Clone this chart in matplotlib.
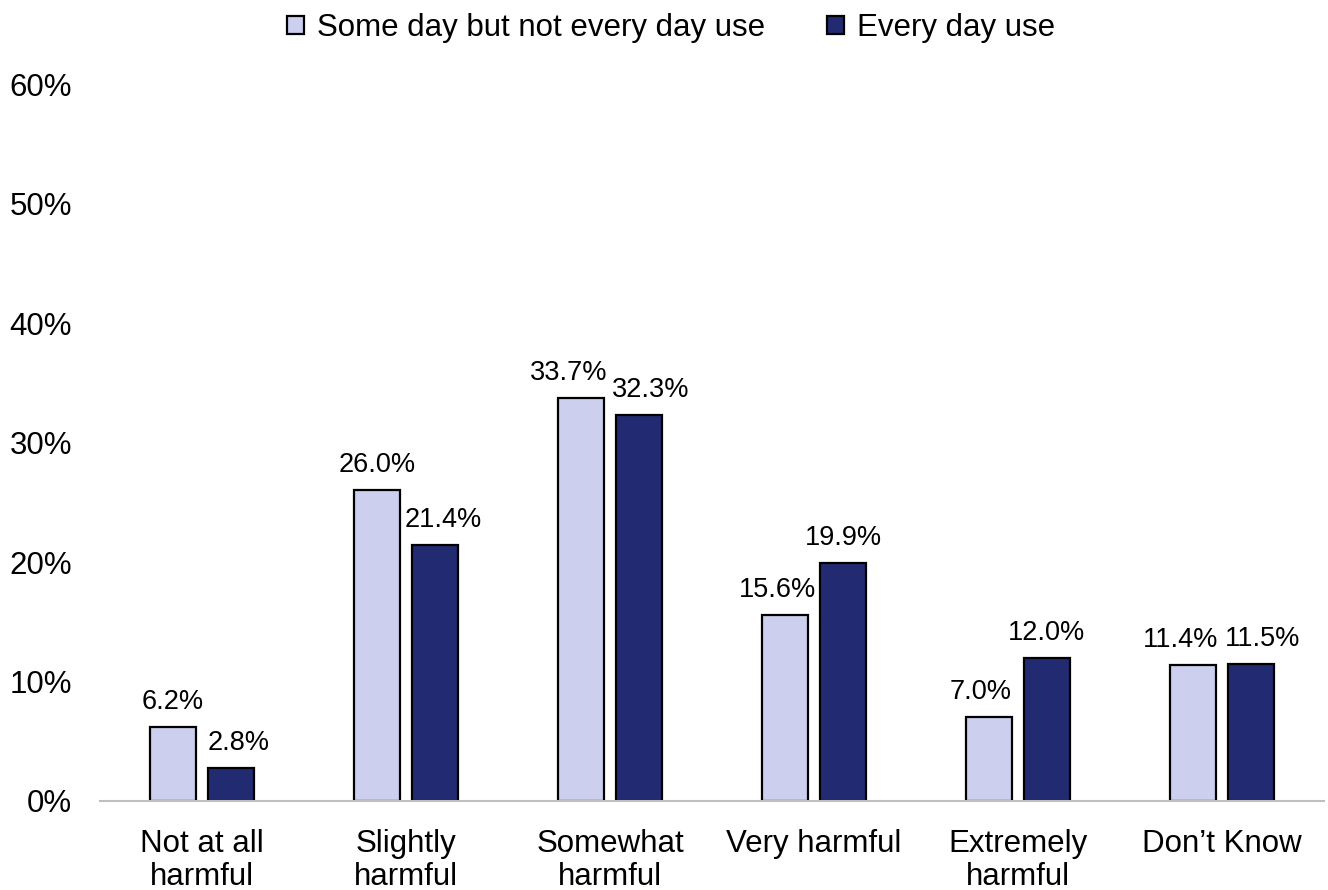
import numpy as np
import matplotlib.pyplot as plt
from matplotlib.patches import Patch

categories = ['Not at all\nharmful', 'Slightly\nharmful', 'Somewhat\nharmful',
              'Very harmful', 'Extremely\nharmful', 'Don\u2019t Know']
some_day = [6.2, 26.0, 33.7, 15.6, 7.0, 11.4]
every_day = [2.8, 21.4, 32.3, 19.9, 12.0, 11.5]
series_names = ['Some day but not every day use', 'Every day use']

light = '#CCCFEE'
dark = '#222A72'

plt.rcParams['font.family'] = ['Liberation Sans', 'DejaVu Sans']

fig = plt.figure(figsize=(13.28, 8.9), dpi=100)
ax = fig.add_axes([100 / 1328, (890 - 801) / 890, 1224 / 1328, (801 - 84) / 890])

x = np.arange(len(categories))
w = 0.23
off = 0.142
b1 = ax.bar(x - off, some_day, w, color=light, edgecolor='black', linewidth=1.6)
b2 = ax.bar(x + off, every_day, w, color=dark, edgecolor='black', linewidth=1.6)

# nudge labels away from the neighbouring taller bar (or apart when level)
for i in range(len(categories)):
    v1, v2 = some_day[i], every_day[i]
    if abs(v1 - v2) < 3:
        d1, d2 = -12, 12
    else:
        d1 = -8 if v1 < v2 else 0
        d2 = 8 if v2 < v1 else 0
    for b, v, dx in ((b1[i], v1, d1), (b2[i], v2, d2)):
        ax.annotate(f'{v:.1f}%', (b.get_x() + b.get_width() / 2, v),
                    xytext=(dx, 12), textcoords='offset pixels',
                    ha='center', va='bottom', fontsize=19.5)

ax.set_xlim(-0.5, len(categories) - 0.5)
ax.set_ylim(0, 60)
ax.set_yticks(range(0, 61, 10))
ax.set_yticklabels([f'{t}%' for t in range(0, 61, 10)], fontsize=22.5)
ax.set_xticks(x)
ax.set_xticklabels(categories, fontsize=22.5, linespacing=1.15)
ax.tick_params(axis='both', length=0)
ax.tick_params(axis='x', pad=20)
ax.tick_params(axis='y', pad=20)

for s in ('top', 'right', 'left'):
    ax.spines[s].set_visible(False)
ax.spines['bottom'].set_color('#BFBFBF')
ax.spines['bottom'].set_linewidth(1.5)

handles = [Patch(facecolor=light, edgecolor='black', linewidth=1.6),
           Patch(facecolor=dark, edgecolor='black', linewidth=1.6)]
fig.legend(handles, series_names, loc='center', bbox_to_anchor=(671 / 1328, 1 - 28 / 890),
           ncol=2, frameon=False, fontsize=22.5, handlelength=0.55, handleheight=0.55,
           handletextpad=0.4, columnspacing=2.0)

fig.savefig('out.png', dpi=100)
